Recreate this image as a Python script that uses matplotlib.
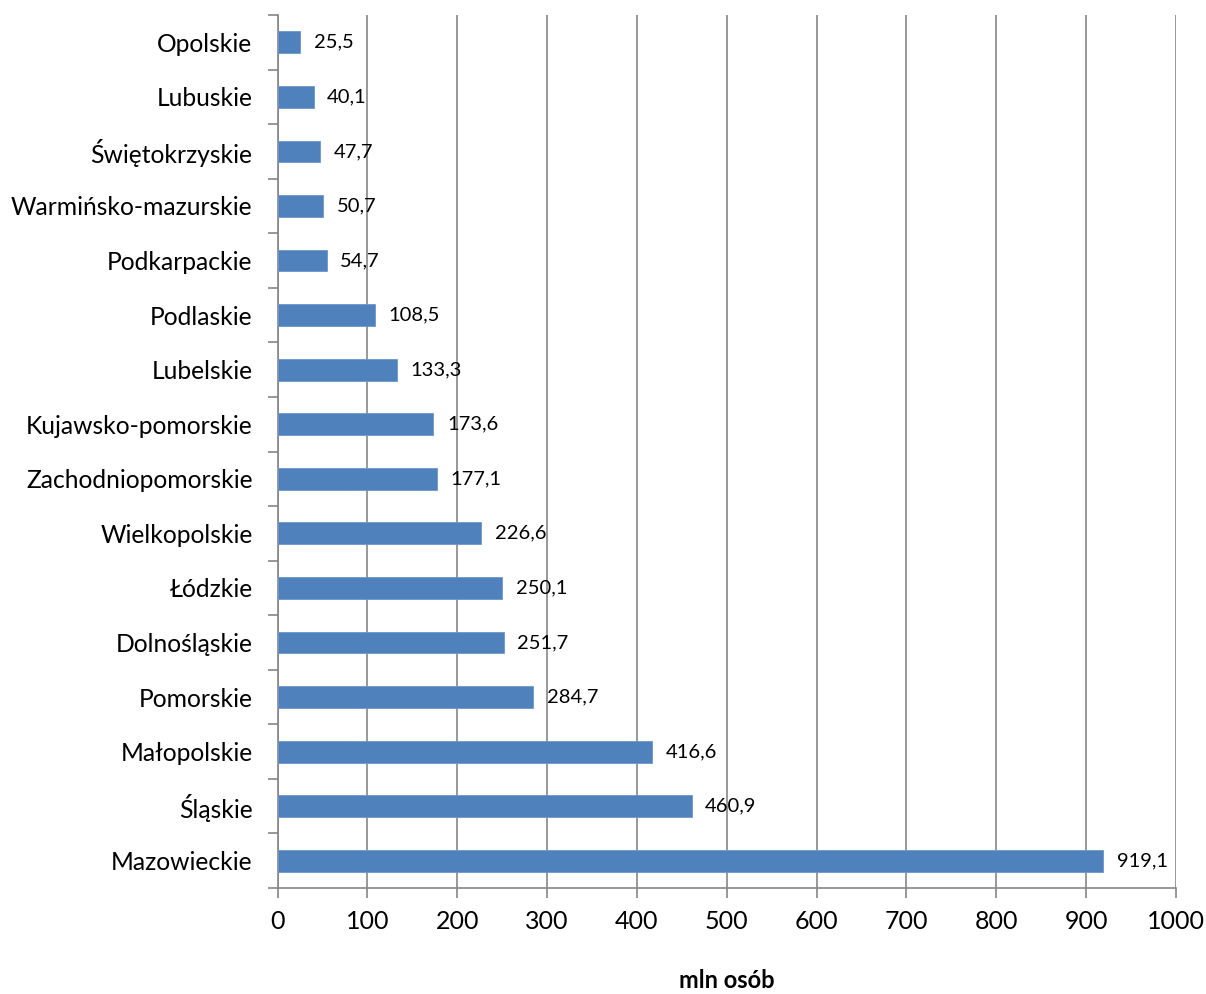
import matplotlib
matplotlib.use("Agg")
import matplotlib.pyplot as plt
from matplotlib.ticker import FixedLocator, NullFormatter

plt.rcParams['font.family'] = ['Lato', 'DejaVu Sans']

regions = ["Mazowieckie", "Śląskie", "Małopolskie", "Pomorskie", "Dolnośląskie",
           "Łódzkie", "Wielkopolskie", "Zachodniopomorskie", "Kujawsko-pomorskie",
           "Lubelskie", "Podlaskie", "Podkarpackie", "Warmińsko-mazurskie",
           "Świętokrzyskie", "Lubuskie", "Opolskie"]
values = [919.1, 460.9, 416.6, 284.7, 251.7, 250.1, 226.6, 177.1, 173.6,
          133.3, 108.5, 54.7, 50.7, 47.7, 40.1, 25.5]
x_ticks = [0, 100, 200, 300, 400, 500, 600, 700, 800, 900, 1000]

axis_gray = "#868686"
bar_blue = "#4F81BD"

fig = plt.figure(figsize=(12.06, 9.94), dpi=100)
ax = fig.add_axes([0.2301, 0.1066, 0.7450, 0.8783])

pos = list(range(len(regions)))
ax.barh(pos, values, height=0.4, color=bar_blue, edgecolor="#6f96c9", linewidth=0.6, zorder=3)

for p, v in zip(pos, values):
    ax.text(v + 15, p, f"{v:.1f}".replace(".", ","), va="center", ha="left",
            fontsize=14.5, color="black", zorder=4)

ax.set_xlim(0, 1000)
ax.set_ylim(-0.5, len(regions) - 0.5)
ax.set_xticks(x_ticks)
ax.set_xticklabels([str(t) for t in x_ticks], fontsize=18)
ax.set_yticks(pos)
ax.set_yticklabels(regions, fontsize=17.7)

ax.yaxis.set_minor_locator(FixedLocator([i - 0.5 for i in range(len(regions) + 1)]))
ax.yaxis.set_minor_formatter(NullFormatter())
ax.tick_params(axis="y", which="major", length=0, pad=18)
ax.tick_params(axis="y", which="minor", length=7, width=1.2, color=axis_gray)
ax.tick_params(axis="x", which="major", length=7, width=1.2, color=axis_gray, pad=9)

ax.grid(axis="x", color=axis_gray, linewidth=1.2, zorder=0)
for side in ["top", "right"]:
    ax.spines[side].set_visible(False)
for side in ["left", "bottom"]:
    ax.spines[side].set_color(axis_gray)
    ax.spines[side].set_linewidth(1.2)

fig.text(0.6024, 1 - 981 / 994, "mln osób", fontsize=17, fontweight="bold",
         ha="center", va="center")

fig.savefig("out.png", dpi=100, facecolor="white")
